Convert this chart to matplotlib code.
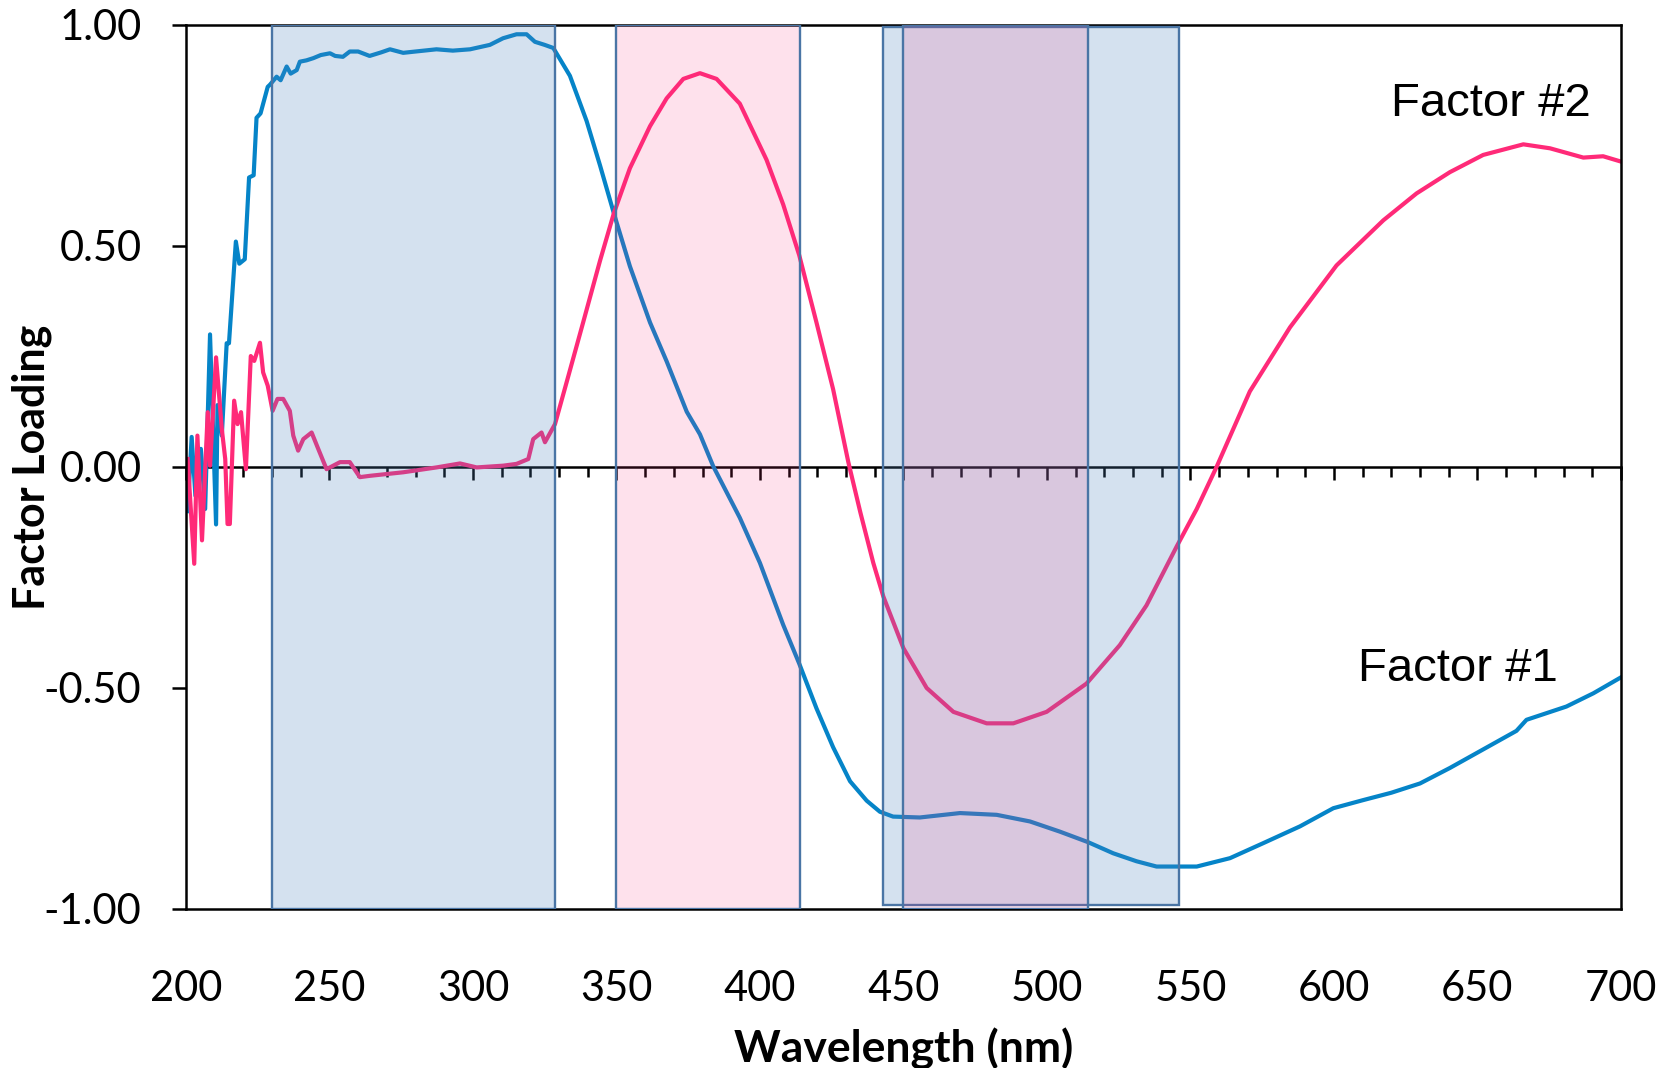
import matplotlib
matplotlib.use("Agg")
import matplotlib.pyplot as plt
from matplotlib.patches import Rectangle
from matplotlib.ticker import MultipleLocator, FormatStrFormatter

# Factor #1 loadings (blue)
wl1 = [200.6, 202.0, 203.3, 205.2, 206.7, 208.4, 210.5, 211.0, 212.5, 214.2,
       215.0, 217.4, 218.6, 220.5, 222.0, 223.6, 224.6, 226.0, 228.5, 229.3,
       231.6, 233.0, 235.1, 236.5, 238.6, 239.7, 242.0, 244.4, 247.0, 250.2,
       252.0, 254.7, 257.1, 260.0, 264.0, 268.0, 271.1, 275.7, 280.0, 287.3,
       293.0, 299.0, 305.9, 310.5, 315.2, 318.7, 321.6, 325.0, 328.0, 333.8,
       339.6, 344.3, 349.1, 354.7, 361.7, 367.5, 374.5, 379.1, 383.7, 393.0,
       400.0, 408.1, 413.7, 419.7, 425.5, 431.4, 437.2, 441.8, 446.4, 455.7,
       469.7, 482.5, 494.1, 504.5, 514.4, 523.1, 531.2, 538.2, 552.2, 563.8,
       575.4, 588.2, 599.8, 610.0, 620.0, 630.0, 640.4, 652.0, 663.6, 667.1,
       681.0, 690.4, 700.0]
f1 = [-0.10, 0.068, -0.065, 0.041, -0.095, 0.30, -0.13, 0.14, 0.071, 0.28,
      0.28, 0.51, 0.46, 0.47, 0.655, 0.66, 0.79, 0.80, 0.86, 0.865,
      0.883, 0.875, 0.906, 0.89, 0.898, 0.917, 0.92, 0.925, 0.932, 0.936,
      0.93, 0.928, 0.94, 0.94, 0.93, 0.938, 0.945, 0.937, 0.94, 0.945,
      0.942, 0.945, 0.955, 0.97, 0.979, 0.979, 0.962, 0.955, 0.948, 0.885,
      0.783, 0.682, 0.574, 0.454, 0.327, 0.239, 0.125, 0.074, 0.002, -0.115,
      -0.217, -0.357, -0.445, -0.546, -0.634, -0.711, -0.755, -0.78, -0.791, -0.793,
      -0.783, -0.787, -0.802, -0.825, -0.849, -0.874, -0.892, -0.904, -0.904, -0.885,
      -0.851, -0.813, -0.772, -0.754, -0.737, -0.716, -0.681, -0.639, -0.597, -0.572,
      -0.542, -0.512, -0.476]

# Factor #2 loadings (pink)
wl2 = [200.6, 202.9, 204.0, 205.6, 207.6, 208.4, 210.5, 212.5, 213.7, 214.5,
       215.3, 216.8, 218.0, 219.2, 220.9, 222.6, 223.8, 225.8, 226.9, 228.5,
       230.2, 231.9, 233.9, 236.2, 237.4, 239.1, 240.9, 243.8, 246.1, 249.0,
       253.7, 257.1, 260.6, 264.1, 269.9, 275.7, 287.3, 295.5, 301.3, 310.6,
       315.2, 319.3, 321.0, 323.9, 325.1, 328.6, 333.0, 338.4, 344.3, 349.1,
       354.7, 361.7, 367.5, 373.3, 379.1, 384.9, 393.0, 402.3, 408.1, 413.7,
       419.7, 425.5, 430.8, 435.0, 439.5, 443.0, 450.0, 458.1, 467.4, 479.0,
       488.3, 499.9, 513.8, 525.4, 534.7, 545.2, 552.2, 559.1, 570.7,
       584.7, 600.9, 617.2, 628.8, 640.4, 652.0, 666.0, 675.3, 686.9, 693.8,
       700.0]
f2 = [0.018, -0.219, 0.071, -0.166, 0.124, 0.003, 0.248, 0.086, 0.018, -0.129,
      -0.129, 0.15, 0.097, 0.124, -0.005, 0.251, 0.24, 0.281, 0.214, 0.184,
      0.127, 0.154, 0.154, 0.127, 0.071, 0.037, 0.063, 0.078, 0.041, -0.005,
      0.011, 0.011, -0.023, -0.02, -0.016, -0.012, -0.001, 0.008, -0.001, 0.003,
      0.007, 0.018, 0.063, 0.078, 0.056, 0.097, 0.20, 0.327, 0.467, 0.574,
      0.676, 0.771, 0.834, 0.878, 0.891, 0.878, 0.822, 0.695, 0.594, 0.479,
      0.327, 0.176, 0.011, -0.103, -0.217, -0.293, -0.41, -0.50, -0.554, -0.58,
      -0.58, -0.554, -0.49, -0.403, -0.313, -0.18, -0.095, 0.0, 0.171,
      0.316, 0.456, 0.558, 0.619, 0.667, 0.706, 0.73, 0.721, 0.70, 0.703,
      0.691]

# highlighted wavelength bands: (start, end, bottom, top, kind)
bands = [(230, 328.5, -1.0, 1.0, "blue"),
         (350, 414, -1.0, 1.0, "pink"),
         (443, 546, -0.99, 0.995, "blue"),
         (450, 514.4, -1.0, 1.0, "pink")]

x_ticks = list(range(200, 701, 50))
y_ticks = [-1.0, -0.5, 0.0, 0.5, 1.0]

blue = "#0584c8"
pink = "#ff2a78"
band_fill = {"blue": (0.31, 0.51, 0.74, 0.24), "pink": (0.98, 0.18, 0.49, 0.14)}
band_edge = "#4a75a5"

fig = plt.figure(figsize=(16.63, 10.68), dpi=100)
ax = fig.add_axes([0.1118, 0.1489, 0.8629, 0.8277])

ax.plot(wl1, f1, color=blue, lw=3.0, zorder=1, solid_joinstyle="round")
ax.plot(wl2, f2, color=pink, lw=3.0, zorder=1, solid_joinstyle="round")

for x0, x1, y0, y1, kind in bands:
    ax.add_patch(Rectangle((x0, y0), x1 - x0, y1 - y0, facecolor=band_fill[kind],
                           edgecolor=band_edge, lw=1.7, zorder=3))

ax.set_xlim(200, 700)
ax.set_ylim(-1, 1)

tick_font = "Lato"
ax.set_xticks(x_ticks)
ax.set_xticklabels([str(t) for t in x_ticks], fontsize=30, family=tick_font)
ax.tick_params(axis="x", length=0, pad=44)
ax.set_yticks(y_ticks)
ax.yaxis.set_major_formatter(FormatStrFormatter("%.2f"))
for lab in ax.get_yticklabels():
    lab.set_fontsize(30)
    lab.set_family(tick_font)
ax.tick_params(axis="y", direction="out", length=10, width=1.8, pad=22)

for s in ax.spines.values():
    s.set_linewidth(1.8)
    s.set_color("black")

# zero line carrying the wavelength ticks
zero = ax.secondary_xaxis(0.5)
zero.set_alignment("bottom")
zero.xaxis.set_major_locator(MultipleLocator(50))
zero.xaxis.set_minor_locator(MultipleLocator(10))
zero.tick_params(which="major", direction="out", length=9.5, width=1.8, labelbottom=False)
zero.tick_params(which="minor", direction="out", length=7, width=1.8)
zero.spines["bottom"].set_linewidth(1.8)

ax.set_xlabel("Wavelength (nm)", fontsize=32, fontweight="bold", family=tick_font, labelpad=14)
ax.set_ylabel("Factor Loading", fontsize=31, fontweight="bold", family=tick_font)
ax.yaxis.set_label_coords(-0.093, 0.5)

ax.text(654.7, 0.822, "Factor #2", fontsize=34, family="Liberation Sans",
        ha="center", va="center", zorder=5)
ax.text(643.2, -0.456, "Factor #1", fontsize=34, family="Liberation Sans",
        ha="center", va="center", zorder=5)

fig.savefig("out.png", dpi=100, facecolor="white")
